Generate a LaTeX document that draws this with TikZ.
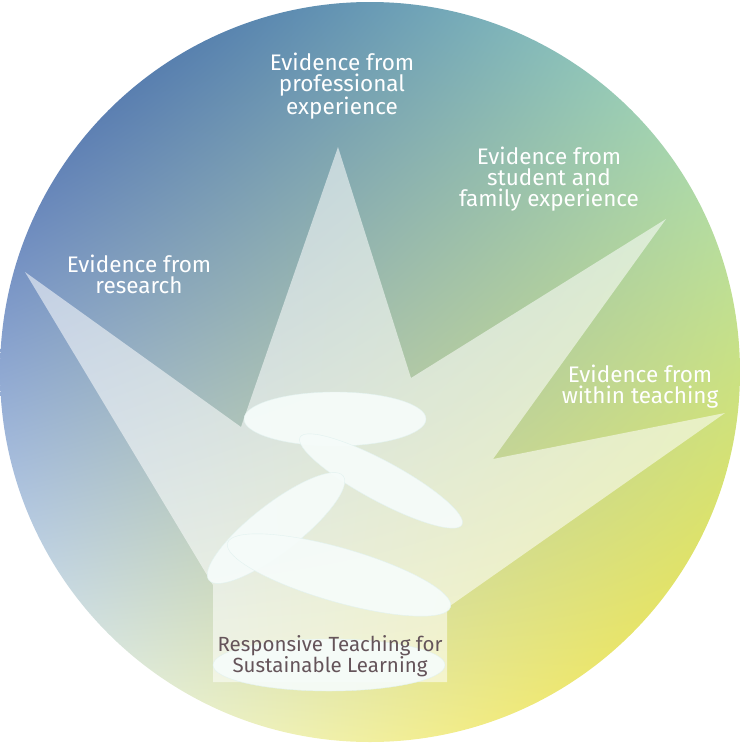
\documentclass[tikz,border=0pt]{standalone}
\usepackage{fontspec}
\setmainfont{Fira Sans}
\usetikzlibrary{shadings}
\definecolor{ulblue}{HTML}{3458A4}
\definecolor{urmint}{HTML}{9CDCC6}
\definecolor{lryellow}{HTML}{F8E640}
\definecolor{llpale}{HTML}{EAF8FF}
\definecolor{stone}{HTML}{F6FCFA}
\definecolor{basetext}{HTML}{65545A}
\begin{document}
\begin{tikzpicture}[line cap=round,line join=round,x=1pt,y=-1pt,
  font=\fontsize{22.5}{21}\selectfont,
  lab/.style={text=white,align=center,inner sep=0pt},
  stn/.style={fill=stone,fill opacity=0.93,draw=stone!92!teal,line width=0.4pt}]
 \useasboundingbox (0,0) rectangle (740,744);
 \shade[upper left=ulblue,upper right=urmint,lower left=llpale,lower right=lryellow] (370,372) circle (370);
 % spotlights and pedestal
 \fill[white,fill opacity=0.55] (25,272) -- (241,427) -- (338,147) -- (411,378) -- (666,219) -- (493,459)
   -- (725,413) -- (447,608) -- (447,682) -- (213,682) -- (213,585) -- cycle;
 \fill[stn] (329,665) ellipse (116 and 26);
 %	stones
 \filldraw[stn] (335,419) ellipse (91 and 27);
 \filldraw[stn,rotate around={-28.4:(381,481)}] (381,481) ellipse (92 and 20);
 \filldraw[stn,rotate around={37.8:(276,528)}] (276,528) ellipse (85 and 24);
 \filldraw[stn,rotate around={-16:(339,575)}] (339,575) ellipse (116 and 27);
 \node[lab] (research) at (139,274) {Evidence from\\research};
 \node[lab] (professional) at (342,86) {Evidence from\\professional\\experience};
 \node[lab] (family) at (549,179) {Evidence from\\student and\\family experience};
 \node[lab] (teaching) at (640,387) {Evidence from\\within teaching};
 \node[align=center,inner sep=0pt,text=basetext,font=\fontsize{20.5}{21}\selectfont] (pedestal) at (330,656) {Responsive Teaching for\\Sustainable Learning};
\end{tikzpicture}
\end{document}
